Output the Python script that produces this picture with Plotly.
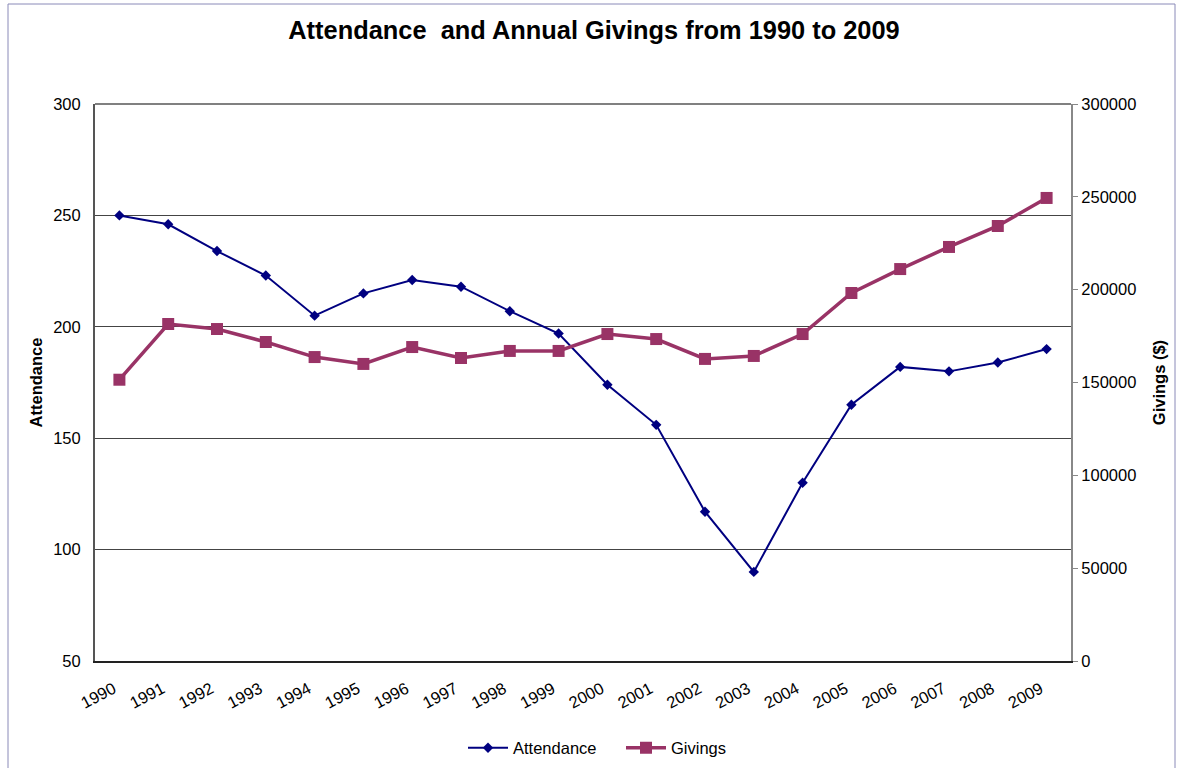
import plotly.graph_objects as go

years = [str(y) for y in range(1990, 2010)]
attendance = [250, 246, 234, 223, 205, 215, 221, 218, 207, 197,
              174, 156, 117, 90, 130, 165, 182, 180, 184, 190]
givings = [151500, 181500, 178800, 171800, 163700, 160000, 169100, 163200, 167000, 167000,
           176100, 173400, 162700, 164300, 176100, 198200, 211100, 223000, 234300, 249400]

W, H = 1180, 768
L, R, T, B = 95, 109, 104, 107
pw, ph = W - L - R, H - T - B

def px(x):
    return (x - L) / pw

def py(y):
    return (H - B - y) / ph

font = "Liberation Sans, Arial, sans-serif"
fs = 16.5

fig = go.Figure()
fig.add_trace(go.Scatter(
    x=years, y=attendance, name="Attendance", mode="lines+markers",
    line=dict(color="#000080", width=2),
    marker=dict(symbol="diamond", size=8, color="#000080"),
    yaxis="y"))
fig.add_trace(go.Scatter(
    x=years, y=givings, name="Givings", mode="lines+markers",
    line=dict(color="#993366", width=3.5),
    marker=dict(symbol="square", size=12, color="#993366"),
    yaxis="y2"))

border = "#8a8ab8"
fig.add_shape(type="line", xref="paper", yref="paper", x0=px(8), x1=px(1175), y0=py(4), y1=py(4),
              line=dict(color=border, width=1))
fig.add_shape(type="line", xref="paper", yref="paper", x0=px(8), x1=px(8), y0=py(4), y1=py(768),
              line=dict(color=border, width=1))
fig.add_shape(type="line", xref="paper", yref="paper", x0=px(1175), x1=px(1175), y0=py(4), y1=py(768),
              line=dict(color=border, width=1))
fig.add_shape(type="line", xref="paper", yref="paper", x0=0, x1=1, y0=1, y1=1,
              line=dict(color="#808080", width=2))

fig.update_layout(
    width=W, height=H,
    margin=dict(l=L, r=R, t=T, b=B, autoexpand=False),
    paper_bgcolor="white", plot_bgcolor="white",
    font=dict(family=font, size=fs, color="black"),
    title=dict(text="<b>Attendance  and Annual Givings from 1990 to 2009</b>",
               x=594 / W, xanchor="center", y=1 - 30 / H, yanchor="middle",
               font=dict(size=25.4, family=font, color="black")),
    xaxis=dict(type="category", range=[-0.5, 19.5], tickangle=-28,
               showline=True, linecolor="#222222", linewidth=2, mirror=False,
               ticks="", showgrid=False, tickfont=dict(size=fs), zeroline=False,
               automargin=False, ticklabelstandoff=10, ticklabelshift=-6),
    yaxis=dict(range=[50, 300], dtick=50, showgrid=True, gridcolor="#444444", gridwidth=1,
               showline=True, linecolor="#555555", linewidth=2, ticks="",
               title=dict(text="<b>Attendance</b>", font=dict(size=fs), standoff=6),
               tickfont=dict(size=fs), zeroline=False, automargin=False,
               ticklabelstandoff=9),
    yaxis2=dict(range=[0, 300000], dtick=50000, tickformat="d", overlaying="y", side="right",
                showgrid=False, showline=True, linecolor="#888888", linewidth=2,
                ticks="outside", ticklen=5, tickcolor="#888888",
                title=dict(text="<b>Givings ($)</b>", font=dict(size=fs), standoff=18),
                tickfont=dict(size=fs), zeroline=False, automargin=False),
    legend=dict(orientation="h", x=px(463), xanchor="left",
                yref="container", y=1 - 748 / H, yanchor="middle",
                font=dict(size=fs), itemwidth=40, entrywidth=103),
    showlegend=True,
)

fig.write_html("out.html", post_script="document.body.style.margin='0px';",
               config={"displayModeBar": False})
